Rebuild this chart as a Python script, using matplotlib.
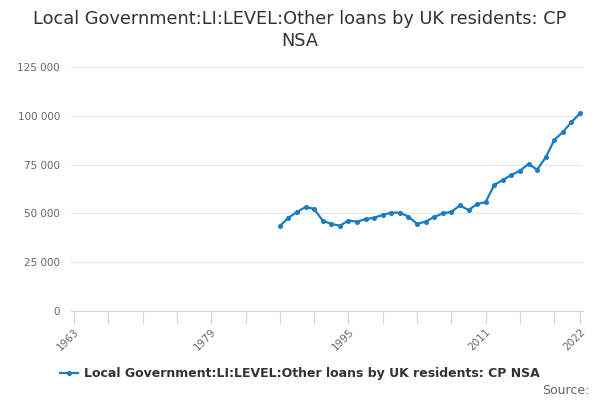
import matplotlib
matplotlib.use("Agg")
import matplotlib.pyplot as plt
from matplotlib.ticker import FuncFormatter

# Values (annual, 1987-2022)
years = list(range(1987, 2023))
values = [43500, 47800, 50700, 53300, 52300, 46300, 44600, 43700, 46300, 45800,
          47000, 47800, 49200, 50400, 50400, 48300, 44600, 45800, 48200, 50000,
          50800, 54100, 51700, 54800, 55800, 64600, 67100, 69700, 71900, 75300,
          72400, 78700, 87600, 91700, 96700, 101300]

major_ticks = [1963, 1979, 1995, 2011, 2022]
minor_ticks = list(range(1963, 2022, 4)) + [2022]
y_ticks = [0, 25000, 50000, 75000, 100000, 125000]

title = "Local Government:LI:LEVEL:Other loans by UK residents: CP\nNSA"
series_name = "Local Government:LI:LEVEL:Other loans by UK residents: CP NSA"

line_color = "#1a7dc3"
axis_color = "#ccd6eb"
grid_color = "#e6e6e6"

fig = plt.figure(figsize=(6, 4), dpi=100)
ax = fig.add_axes([71 / 600, 1 - 311 / 400, 512 / 600, 244 / 400])

ax.plot(years, values, color=line_color, linewidth=1.6, marker="o",
        markersize=2.6, label=series_name)

ax.set_xlim(1962.65, 2022.35)
ax.set_ylim(0, 125000)

ax.set_yticks(y_ticks)
ax.yaxis.set_major_formatter(FuncFormatter(lambda v, p: f"{int(v):,}".replace(",", " ")))
ax.tick_params(axis="y", length=0, labelsize=7.5, labelcolor="#666666", pad=8)
ax.yaxis.grid(True, color=grid_color, linewidth=0.8)
ax.set_axisbelow(True)

ax.set_xticks(minor_ticks, minor=True)
ax.set_xticks(major_ticks)
ax.set_xticklabels([str(t) for t in major_ticks], rotation=45, ha="right",
                   rotation_mode="anchor")
ax.tick_params(axis="x", which="both", direction="out", length=9,
               color=axis_color, width=0.8, labelsize=7.5, labelcolor="#666666", pad=2)

for side in ["top", "right", "left"]:
    ax.spines[side].set_visible(False)
ax.spines["bottom"].set_color(axis_color)
ax.spines["bottom"].set_linewidth(0.8)

fig.text(0.5, 0.975, title, ha="center", va="top", fontsize=12.75,
         color="#333333", linespacing=1.25)

leg = fig.legend(loc="center", bbox_to_anchor=(0.5, 1 - 374 / 400),
                 frameon=False, handlelength=1.4, handletextpad=0.5,
                 prop={"weight": "bold", "size": 9})
for t in leg.get_texts():
    t.set_color("#333333")

fig.text(0.983, 1 - 391 / 400, "Source:", ha="right", va="center",
         fontsize=9, color="#666666")

fig.savefig("out.png", dpi=100)
